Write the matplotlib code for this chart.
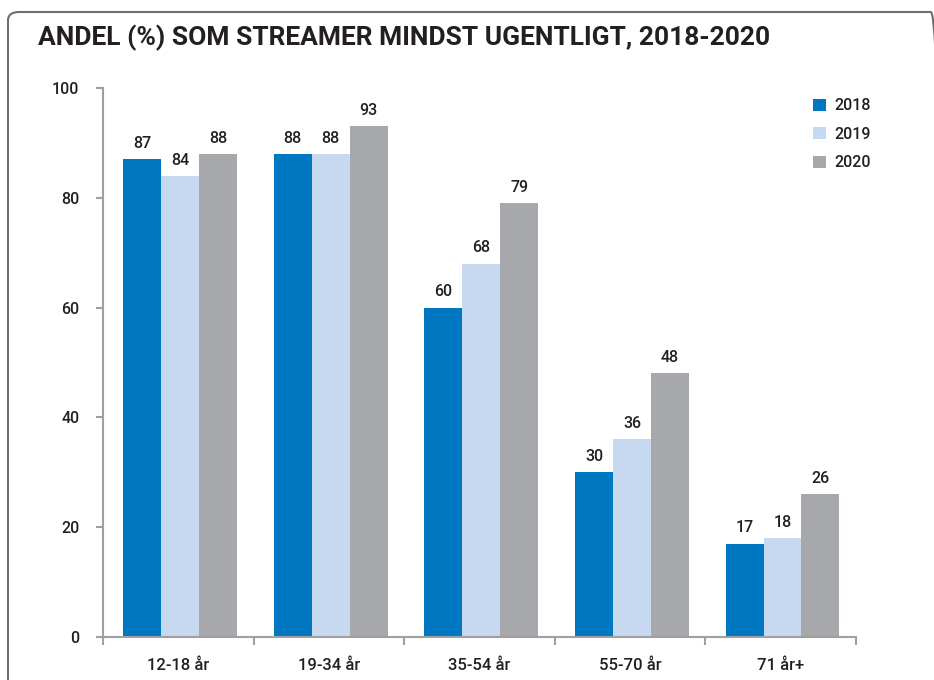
import matplotlib
matplotlib.use("Agg")
import matplotlib.pyplot as plt
from matplotlib.patches import FancyBboxPatch
import numpy as np

categories = ["12-18 år", "19-34 år", "35-54 år", "55-70 år", "71 år+"]
years = ["2018", "2019", "2020"]
v2018 = [87, 88, 60, 30, 17]
v2019 = [84, 88, 68, 36, 18]
v2020 = [88, 93, 79, 48, 26]
yticks = [0, 20, 40, 60, 80, 100]
title = "ANDEL (%) SOM STREAMER MINDST UGENTLIGT, 2018-2020"

colors = ["#0077C1", "#C6D9F0", "#A7A8AB"]
plt.rcParams['font.family'] = ['Roboto', 'DejaVu Sans']
txtc = "#231F20"
fs = 11.5

fig = plt.figure(figsize=(9.34, 6.8), dpi=100)
fig.patch.set_facecolor("white")

# outer rounded frame
frame = FancyBboxPatch((8/934, 0 - 0.05), 1.0, (680-12)/680 + 0.05,
                       boxstyle="round,pad=0,rounding_size=0.012",
                       transform=fig.transFigure, facecolor="none",
                       edgecolor="#6E6E6E", linewidth=1.5, clip_on=False)
fig.patches.append(frame)

ax = fig.add_axes([103/934, 1 - 637/680, (856-103)/934, (637-88)/680])
x = np.arange(len(categories))
w = 0.252
series = [v2018, v2019, v2020]
for i, (vals, c, lab) in enumerate(zip(series, colors, years)):
    bars = ax.bar(x + (i - 1) * w + 0.012, vals, width=w, color=c, label=lab, zorder=2)
    for b, v in zip(bars, vals):
        ax.text(b.get_x() + b.get_width()/2, v + 1.5, f"{v}", ha="center", va="bottom",
                fontsize=fs, fontweight="medium", color=txtc)

ax.set_xlim(-0.5, len(categories) - 0.5)
ax.set_ylim(0, 100)
ax.set_yticks(yticks)
ax.set_yticklabels([str(t) for t in yticks], fontsize=fs, fontweight="medium", color=txtc)
ax.set_xticks(np.arange(len(categories) + 1) - 0.5)
ax.set_xticklabels([])
ax.set_xticks(x, minor=True)
ax.set_xticklabels(categories, minor=True, fontsize=12, fontweight="medium", color=txtc)
ax.tick_params(axis="x", which="minor", length=0, pad=15)
ax.tick_params(axis="x", which="major", length=6, width=1.5, color="#A0A0A0", direction="out")
ax.tick_params(axis="y", length=5, width=1.5, color="#A0A0A0", pad=12)
for s in ["top", "right"]:
    ax.spines[s].set_visible(False)
for s in ["left", "bottom"]:
    ax.spines[s].set_color("#A0A0A0")
    ax.spines[s].set_linewidth(1.5)

leg = ax.legend(loc="upper left", bbox_to_anchor=(0.935, 0.993), frameon=False,
                prop={"size": fs, "weight": "medium"}, handlelength=0.8, handleheight=0.8,
                handletextpad=0.5, labelspacing=0.85, borderaxespad=0)
for t in leg.get_texts():
    t.set_color(txtc)

fig.text(38/934, 1 - 38/680, title, fontsize=19, fontweight="bold", color=txtc,
         ha="left", va="center")

fig.savefig("out.png", dpi=100)
